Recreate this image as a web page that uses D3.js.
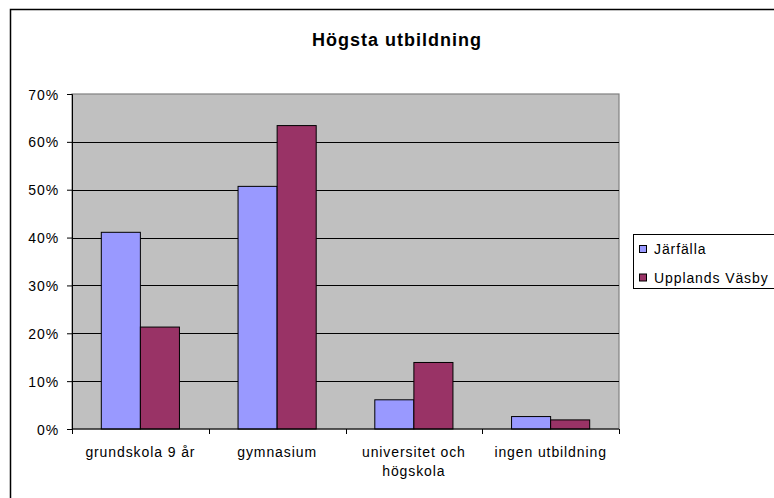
<!DOCTYPE html>
<meta charset="utf-8">
<style>
body {
    margin: 0px;
    background: white;
    font-family: Arial, "Liberation Sans", sans-serif;
}
.title {
  font-size: 18px;
  font-weight: 700;
  letter-spacing: 1px;
}
.tick-label {
  font-size: 14px;
  letter-spacing: 0.9px;
  fill: black;
}
</style>
<body>
<script src="https://d3js.org/d3.v7.min.js"></script>
<script>
var width = 774,
    height = 498

// data
var categories = ["grundskola 9 år", "gymnasium", "universitet och högskola", "ingen utbildning"]
var categoryLines = [["grundskola 9 år"], ["gymnasium"], ["universitet och", "högskola"], ["ingen utbildning"]]
var series = ["Järfälla", "Upplands Väsby"]
var jarfalla = [0.411, 0.507, 0.061, 0.026]
var upplandsVasby = [0.213, 0.634, 0.139, 0.019]
var yTicks = [0, 0.1, 0.2, 0.3, 0.4, 0.5, 0.6, 0.7]
var colors = ["#9999FF", "#993366"]

var plot = {left: 72, right: 619, top: 94, bottom: 429}

var svg = d3.select("body").append("svg")
    .attr("width", width)
    .attr("height", height)

// chart frame
svg.append("rect")
    .attr("x", 10.5)
    .attr("y", 9.5)
    .attr("width", 800)
    .attr("height", 520)
    .attr("fill", "white")
    .attr("stroke", "black")
    .attr("stroke-width", 1.5)

svg.append("text")
    .attr("class", "title")
    .attr("x", 397)
    .attr("y", 46)
    .attr("text-anchor", "middle")
    .text("Högsta utbildning")

var y = d3.scaleLinear()
    .domain([0, 0.7])
    .range([plot.bottom, plot.top])

var x0 = d3.scaleBand()
    .domain(categories)
    .range([plot.left, plot.right])

var x1 = d3.scaleBand()
    .domain(series)
    .range([0, x0.bandwidth()])
    .paddingOuter(0.75)

// plot area
svg.append("rect")
    .attr("x", plot.left)
    .attr("y", plot.top)
    .attr("width", plot.right - plot.left)
    .attr("height", plot.bottom - plot.top)
    .attr("fill", "#C0C0C0")
    .attr("stroke", "#808080")
    .attr("stroke-width", 1.2)

// gridlines
svg.append("g")
    .selectAll("line")
    .data(yTicks.filter(function(d) { return d > 0 && d < 0.7 }))
    .enter()
    .append("line")
    .attr("x1", plot.left)
    .attr("x2", plot.right)
    .attr("y1", function(d) { return Math.round(y(d)) + 0.5 })
    .attr("y2", function(d) { return Math.round(y(d)) + 0.5 })
    .attr("stroke", "black")
    .attr("stroke-width", 1)

// bars
var values = [jarfalla, upplandsVasby]
var bars = []
series.forEach(function(s, si) {
    categories.forEach(function(c, ci) {
        bars.push({series: s, category: c, value: values[si][ci], color: colors[si]})
    })
})

svg.append("g")
    .selectAll("rect")
    .data(bars)
    .enter()
    .append("rect")
    .attr("x", function(d) { return x0(d.category) + x1(d.series) })
    .attr("y", function(d) { return y(d.value) })
    .attr("width", x1.bandwidth())
    .attr("height", function(d) { return y(0) - y(d.value) })
    .attr("fill", function(d) { return d.color })
    .attr("stroke", "black")
    .attr("stroke-width", 1)

// y axis
var yAxis = svg.append("g")
    .attr("transform", "translate(" + plot.left + ",0)")
    .call(d3.axisLeft(y).tickValues(yTicks).tickFormat(d3.format(".0%")).tickSize(5).tickPadding(8))
yAxis.attr("font-size", null).attr("font-family", null)
yAxis.select(".domain").attr("stroke", "black")
yAxis.selectAll("text").attr("class", "tick-label").attr("dy", "0.36em")

// x axis
var xAxis = svg.append("g")
    .attr("transform", "translate(0," + plot.bottom + ")")
xAxis.append("line")
    .attr("x1", plot.left)
    .attr("x2", plot.right)
    .attr("stroke", "black")
xAxis.selectAll(".cat-tick")
    .data(categories.concat(["end"]))
    .enter()
    .append("line")
    .attr("class", "cat-tick")
    .attr("x1", function(d, i) { return i < categories.length ? Math.round(x0(d)) + 0.5 : plot.right + 0.5 })
    .attr("x2", function(d, i) { return i < categories.length ? Math.round(x0(d)) + 0.5 : plot.right + 0.5 })
    .attr("y1", 0)
    .attr("y2", 5)
    .attr("stroke", "black")

var labels = xAxis.selectAll(".cat-label")
    .data(categories)
    .enter()
    .append("text")
    .attr("class", "tick-label cat-label")
    .attr("text-anchor", "middle")
    .attr("transform", function(d) { return "translate(" + (x0(d) + x0.bandwidth() / 2) + ",28)" })

labels.selectAll("tspan")
    .data(function(d, i) { return categoryLines[i] })
    .enter()
    .append("tspan")
    .attr("x", 0)
    .attr("dy", function(d, i) { return i === 0 ? 0 : 19 })
    .text(function(d) { return d })

// legend
var legend = svg.append("g")
    .attr("transform", "translate(633,234)")
legend.append("rect")
    .attr("x", 0.5)
    .attr("y", 0.5)
    .attr("width", 160)
    .attr("height", 54)
    .attr("fill", "white")
    .attr("stroke", "black")

var items = legend.selectAll(".item")
    .data(series)
    .enter()
    .append("g")
    .attr("class", "item")
    .attr("transform", function(d, i) { return "translate(6," + (15 + i * 28.5) + ")" })

items.append("rect")
    .attr("x", 0.5)
    .attr("y", -3.5)
    .attr("width", 7)
    .attr("height", 7)
    .attr("fill", function(d, i) { return colors[i] })
    .attr("stroke", "black")

items.append("text")
    .attr("class", "tick-label")
    .attr("x", 15)
    .attr("y", 5)
    .text(function(d) { return d })
</script>
